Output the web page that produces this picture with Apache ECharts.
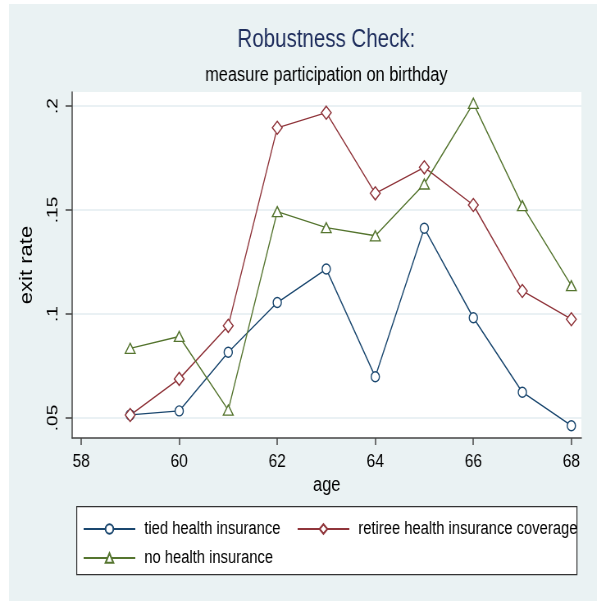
<!DOCTYPE html>
<html><head><meta charset="utf-8">
<script src="https://cdn.jsdelivr.net/npm/echarts@6/dist/echarts.min.js"></script>
<style>
html,body{margin:0;padding:0;background:#fff;width:597px;height:601px;overflow:hidden;}
#wrap{position:absolute;left:9px;top:4px;width:588px;height:597px;background:#eaf2f3;overflow:hidden;}
#chart{position:absolute;left:0;top:0;width:717px;height:597px;transform:scaleX(0.82);transform-origin:0 0;}
</style></head><body><div id="wrap"><div id="chart"></div></div>
<script>
const ages = [59, 60, 61, 62, 63, 64, 65, 66, 67, 68];
const tiedValues = [0.0515, 0.0534, 0.0816, 0.1055, 0.1216, 0.0698, 0.1412, 0.0982, 0.0624, 0.0463];
const retireeValues = [0.0514, 0.0688, 0.0943, 0.1895, 0.1968, 0.1580, 0.1705, 0.1524, 0.1111, 0.0975];
const noneValues = [0.0835, 0.0892, 0.0538, 0.1492, 0.1415, 0.1376, 0.1625, 0.2013, 0.1521, 0.1136];
const seriesNames = ['tied health insurance', 'retiree health insurance coverage', 'no health insurance'];
const xTicks = [58, 60, 62, 64, 66, 68];
const yTicks = [0.05, 0.1, 0.15, 0.2];
const yTickLabels = ['.05', '.1', '.15', '.2'];

const FONT = 'Liberation Sans, Arial, sans-serif';
const colors = ['#1a476f', '#90353b', '#55752f'];
const pair = (vals) => ages.map((a, i) => [a, vals[i]]);

const chart = echarts.init(document.getElementById('chart'), null, {renderer: 'canvas'});
const mkSeries = (name, vals, color, symbol, size) => ({
  name, type: 'line', data: pair(vals), symbol, symbolSize: size,
  showSymbol: true,
  lineStyle: {color, width: 1.4},
  itemStyle: {color: '#fff', borderColor: color, borderWidth: 1.4},
  emphasis: {disabled: true}, z: 3, animation: false
});
const legendBase = (name, left, top) => ({
  data: [name], left, top, orient: 'horizontal', padding: 0,
  itemWidth: 63, itemHeight: 12, selectedMode: false,
  textStyle: {fontFamily: FONT, fontSize: 18, color: '#000', padding: [0, 0, 0, 6]}
});

chart.setOption({
  animation: false,
  backgroundColor: 'transparent',
  textStyle: {fontFamily: FONT},
  title: [
    {text: 'Robustness Check:', left: 387, top: 24, textAlign: 'center', padding: 0,
     textStyle: {fontFamily: FONT, fontSize: 25, fontWeight: 'normal', color: '#1e2d5c'}},
    {text: 'measure participation on birthday', left: 387, top: 61, textAlign: 'center', padding: 0,
     textStyle: {fontFamily: FONT, fontSize: 20, fontWeight: 'normal', color: '#000'}}
  ],
  grid: {left: 77, right: 19, top: 88, bottom: 163, show: true, backgroundColor: '#fff', borderWidth: 0, containLabel: false},
  xAxis: {
    type: 'value', min: 57.816, max: 68.204,
    name: 'age', nameLocation: 'middle', nameGap: 37,
    nameTextStyle: {fontFamily: FONT, fontSize: 20, color: '#000'},
    axisLine: {show: true, onZero: false, lineStyle: {color: '#444', width: 1.5}},
    axisTick: {show: true, inside: false, length: 7, customValues: xTicks, lineStyle: {color: '#444', width: 1.5}},
    axisLabel: {customValues: xTicks, fontSize: 19, color: '#000', margin: 14, fontFamily: FONT},
    splitLine: {show: false}
  },
  yAxis: {
    type: 'value', min: 0.04038, max: 0.20673,
    name: 'exit rate', nameLocation: 'middle', nameGap: 44, nameRotate: 90,
    nameTextStyle: {fontFamily: FONT, fontSize: 22, color: '#000'},
    axisLine: {show: true, onZero: false, lineStyle: {color: '#444', width: 1.5}},
    axisTick: {show: true, inside: false, length: 8, customValues: yTicks, lineStyle: {color: '#444', width: 1.5}},
    axisLabel: {customValues: yTicks, rotate: 90, fontSize: 19, color: '#000', margin: 14, fontFamily: FONT,
      formatter: (v) => { const i = yTicks.findIndex(t => Math.abs(t - v) < 1e-9); return i >= 0 ? yTickLabels[i] : ''; }},
    splitLine: {show: true, lineStyle: {color: '#e3edf0', width: 1.5}}
  },
  legend: [
    legendBase(seriesNames[0], 90, 516),
    legendBase(seriesNames[1], 351, 516),
    legendBase(seriesNames[2], 90, 545)
  ],
  graphic: [{
    type: 'rect', left: 82, top: 502, z: 0,
    shape: {width: 610, height: 68},
    style: {fill: '#fff', stroke: '#333', lineWidth: 1.2}
  }],
  series: [
    mkSeries(seriesNames[0], tiedValues, colors[0], 'circle', 10),
    mkSeries(seriesNames[1], retireeValues, colors[1], 'diamond', [12, 13]),
    mkSeries(seriesNames[2], noneValues, colors[2], 'triangle', [12, 10])
  ]
});
</script></body></html>
